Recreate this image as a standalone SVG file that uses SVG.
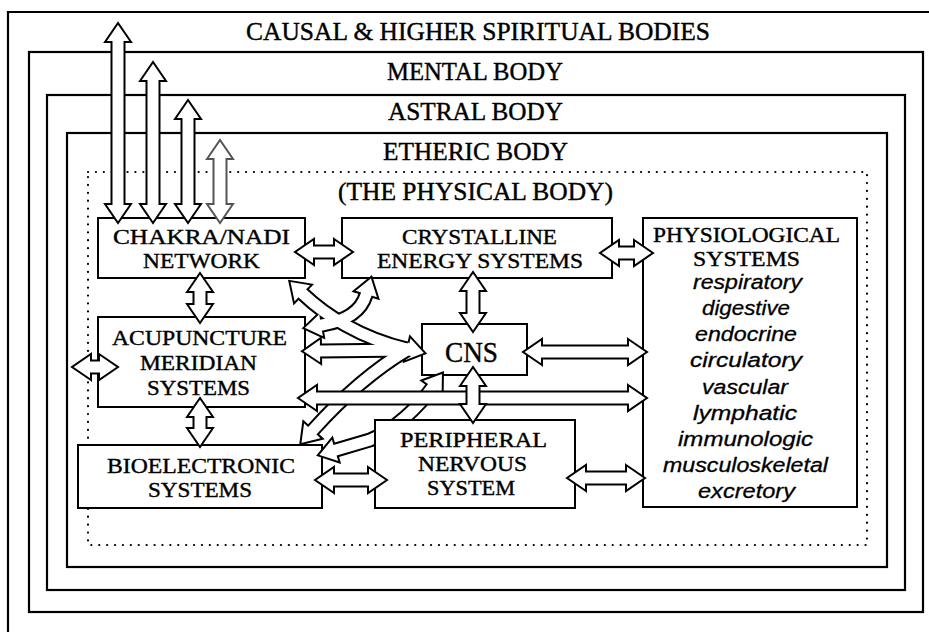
<svg xmlns="http://www.w3.org/2000/svg" width="929" height="632" viewBox="0 0 929 632">
<style>
.bl{fill:none;stroke:#000;stroke-width:2.2}
.box{fill:#fff;stroke:#000;stroke-width:2}
.dot{fill:none;stroke:#000;stroke-width:2.2;stroke-dasharray:0.1 7.8;stroke-linecap:round}
.t{font-family:"Liberation Serif","DejaVu Serif",serif;font-size:22px;text-anchor:middle;fill:#000;stroke:#000;stroke-width:0.4}
.tb{font-size:25px}
.cn{font-size:30px}
.ti{font-family:"Liberation Sans","DejaVu Sans",sans-serif;font-style:italic;font-size:20px;text-anchor:middle;fill:#000;stroke:#000;stroke-width:0.3}
.o{fill:none;stroke:#000;stroke-width:15;marker-start:url(#h);marker-end:url(#h)}
.os{fill:none;stroke:#000;stroke-width:15;marker-start:url(#h)}
.og{fill:none;stroke:#555;stroke-width:15;marker-start:url(#hg);marker-end:url(#hg)}
.i{fill:none;stroke:#fff;stroke-width:11;stroke-linecap:square}
</style>
<defs>
<marker id="h" markerUnits="userSpaceOnUse" orient="auto-start-reverse" overflow="visible" refX="0" refY="0" markerWidth="1" markerHeight="1"><path d="M0,-13 L19,0 L0,13 Z" fill="#fff" stroke="#000" stroke-width="2"/></marker>
<marker id="hg" markerUnits="userSpaceOnUse" orient="auto-start-reverse" overflow="visible" refX="0" refY="0" markerWidth="1" markerHeight="1"><path d="M0,-13 L19,0 L0,13 Z" fill="#fff" stroke="#555" stroke-width="2"/></marker>
<clipPath id="cp"><path clip-rule="evenodd" d="M0,0H929V632H0Z M374,419H577V510H374Z"/></clipPath>
</defs>
<rect width="929" height="632" fill="#fff"/>

<g id="causal"><path class="bl" d="M8,632 V12 H929"/><text class="t tb" x="478" y="40" textLength="464" lengthAdjust="spacingAndGlyphs">CAUSAL &amp; HIGHER SPIRITUAL BODIES</text></g>
<g id="mental"><rect class="bl" x="29" y="52" width="894" height="560"/><text class="t tb" x="475" y="80" textLength="176" lengthAdjust="spacingAndGlyphs">MENTAL BODY</text></g>
<g id="astral"><rect class="bl" x="47" y="95" width="858" height="495"/><text class="t tb" x="475.5" y="120" textLength="175" lengthAdjust="spacingAndGlyphs">ASTRAL BODY</text></g>
<g id="etheric"><rect class="bl" x="67" y="133" width="820" height="434"/><text class="t tb" x="475.5" y="160" textLength="185" lengthAdjust="spacingAndGlyphs">ETHERIC BODY</text></g>
<g id="physical"><rect class="dot" x="88" y="172" width="779" height="373"/><text class="t tb" x="475.5" y="200" textLength="275" lengthAdjust="spacingAndGlyphs">(THE PHYSICAL BODY)</text></g>

<g id="chakra"><rect class="box" x="98" y="218" width="207" height="60"/><text class="t" x="201.5" y="244" textLength="177" lengthAdjust="spacingAndGlyphs">CHAKRA/NADI</text><text class="t" x="201.5" y="268" textLength="117" lengthAdjust="spacingAndGlyphs">NETWORK</text></g>
<g id="crystalline"><rect class="box" x="342" y="218" width="270" height="60"/><text class="t" x="479.5" y="244" textLength="155" lengthAdjust="spacingAndGlyphs">CRYSTALLINE</text><text class="t" x="480" y="268" textLength="206" lengthAdjust="spacingAndGlyphs">ENERGY SYSTEMS</text></g>
<g id="physiological"><rect class="box" x="643" y="218" width="214" height="289"/><text class="t" x="746.5" y="242" textLength="187" lengthAdjust="spacingAndGlyphs">PHYSIOLOGICAL</text><text class="t" x="746.5" y="266" textLength="107" lengthAdjust="spacingAndGlyphs">SYSTEMS</text>
<text class="ti" x="747.5" y="289" textLength="109" lengthAdjust="spacingAndGlyphs">respiratory</text>
<text class="ti" x="746" y="315" textLength="88" lengthAdjust="spacingAndGlyphs">digestive</text>
<text class="ti" x="746" y="341" textLength="102" lengthAdjust="spacingAndGlyphs">endocrine</text>
<text class="ti" x="746" y="367" textLength="112" lengthAdjust="spacingAndGlyphs">circulatory</text>
<text class="ti" x="745" y="394" textLength="86" lengthAdjust="spacingAndGlyphs">vascular</text>
<text class="ti" x="745" y="420" textLength="104" lengthAdjust="spacingAndGlyphs">lymphatic</text>
<text class="ti" x="745.5" y="446" textLength="135" lengthAdjust="spacingAndGlyphs">immunologic</text>
<text class="ti" x="745.5" y="472" textLength="165" lengthAdjust="spacingAndGlyphs">musculoskeletal</text>
<text class="ti" x="746.5" y="498" textLength="97" lengthAdjust="spacingAndGlyphs">excretory</text></g>
<g id="acupuncture"><rect class="box" x="98" y="317" width="207" height="90"/><text class="t" x="199.5" y="345" textLength="175" lengthAdjust="spacingAndGlyphs">ACUPUNCTURE</text><text class="t" x="198.5" y="370" textLength="117" lengthAdjust="spacingAndGlyphs">MERIDIAN</text><text class="t" x="198.5" y="395" textLength="103" lengthAdjust="spacingAndGlyphs">SYSTEMS</text></g>
<g id="bioelectronic"><rect class="box" x="78" y="445" width="244" height="63"/><text class="t" x="201" y="473" textLength="188" lengthAdjust="spacingAndGlyphs">BIOELECTRONIC</text><text class="t" x="200" y="497" textLength="104" lengthAdjust="spacingAndGlyphs">SYSTEMS</text></g>
<g id="pns"><rect class="box" x="375" y="420" width="200" height="88"/><text class="t" x="473.5" y="447" textLength="147" lengthAdjust="spacingAndGlyphs">PERIPHERAL</text><text class="t" x="472.5" y="471" textLength="109" lengthAdjust="spacingAndGlyphs">NERVOUS</text><text class="t" x="471" y="495" textLength="88" lengthAdjust="spacingAndGlyphs">SYSTEM</text></g>
<g id="cns"><rect class="box" x="422" y="324" width="105" height="51"/><text class="t cn" x="471.5" y="362" textLength="53" lengthAdjust="spacingAndGlyphs">CNS</text></g>

<g id="connectors">
<path class="o" d="M118,42 V204"/><path class="i" d="M118,42 V204"/>
<path class="o" d="M153,81 V204"/><path class="i" d="M153,81 V204"/>
<path class="o" d="M188,119 V204"/><path class="i" d="M188,119 V204"/>
<path class="og" d="M220,159 V204"/><path class="i" d="M220,159 V204"/>
<path class="o" d="M314,252 H334"/><path class="i" d="M314,252 H334"/>
<path class="o" d="M619,253 H634"/><path class="i" d="M619,253 H634"/>
<path class="o" d="M200,292 V304"/><path class="i" d="M200,292 V304"/>
<path class="o" d="M200,417 V428"/><path class="i" d="M200,417 V428"/>
<path class="o" d="M91,367 H99"/><path class="i" d="M91,367 H99"/>
<path class="o" d="M473,291 V313"/><path class="i" d="M473,291 V313"/>
<path class="o" d="M542,352 H628"/><path class="i" d="M542,352 H628"/>
<g id="fan">
<path class="o" d="M303,294 C325,315 360,338 407,349"/>
<path class="o" d="M366,295 C360,315 340,322 322,325"/>
<path class="os" d="M321,351 L407,350"/>
<path class="os" d="M313,430 C340,400 370,372 407,350"/>
<path class="i" d="M303,294 C325,315 360,338 407,349"/>
<path class="i" d="M366,295 C360,315 340,322 322,325"/>
<path class="i" d="M321,351 L407,350"/>
<path class="i" d="M313,430 C340,400 370,372 407,350"/>
</g>
<g clip-path="url(#cp)">
<path class="o" d="M336,450 L370,440 C395,430 420,405 432,388"/><path class="i" d="M336,450 L370,440 C395,430 420,405 432,388"/>
</g>
<path class="o" d="M317,398 H628"/><path class="i" d="M317,398 H628"/>
<path class="o" d="M473,386 V404"/><path class="i" d="M473,386 V404"/>
<path class="o" d="M586,478 H626"/><path class="i" d="M586,478 H626"/>
<path class="o" d="M334,480 H368"/><path class="i" d="M334,480 H368"/>
</g>
</svg>
